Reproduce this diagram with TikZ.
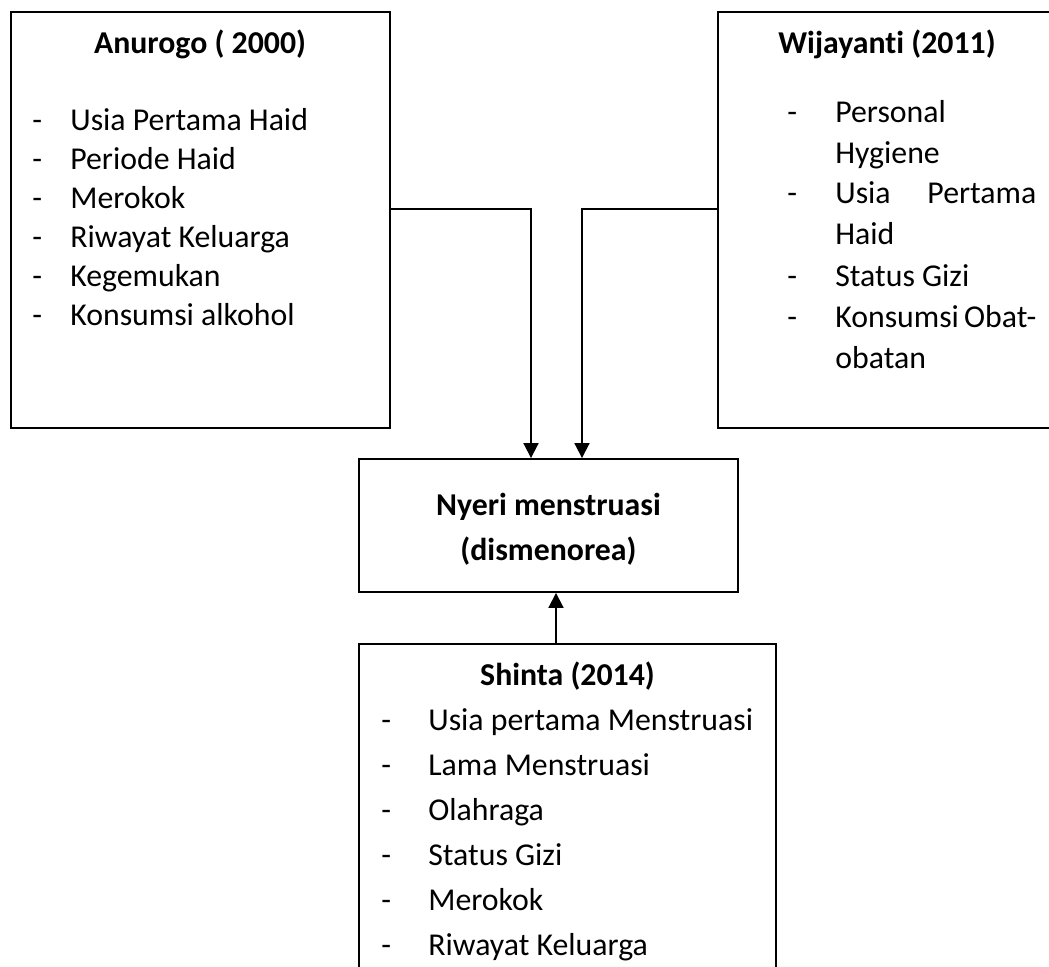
\documentclass[tikz,border=0pt]{standalone}
\usepackage{fontspec}
\setmainfont{Carlito}[Ligatures=NoCommon]
\usetikzlibrary{arrows.meta,calc,positioning}

\begin{document}
\begin{tikzpicture}[x=0.02cm,y=-0.02cm,
  box/.style={draw,line width=1.1pt,inner sep=0pt},
  txt/.style={anchor=base west,inner sep=0pt,font=\fontsize{18.1}{21}\selectfont},
  head/.style={anchor=base,inner sep=0pt,font=\fontsize{18.1}{21}\selectfont\bfseries},
  arr/.style={line width=1.1pt,-{Triangle[width=8.5pt,length=8.5pt]}}]
  \useasboundingbox (0,0) rectangle (1049,967);
  % boxes
  \node[box,minimum width=7.58cm,minimum height=8.32cm] (anurogo) at (200.5,220) {};
  \node[box,minimum width=7.24cm,minimum height=8.32cm] (wijayanti) at (899,220) {};
  \node[box,minimum width=7.58cm,minimum height=2.66cm] (nyeri) at (548.5,525.5) {};
  \node[box,minimum width=8.34cm,minimum height=7.12cm] (shinta) at (567.5,822) {};
  % Anurogo
  \node[head] (anurogo-t) at (200,53) {Anurogo ( 2000)};
  \foreach \y/\t [count=\i] in {130/Usia Pertama Haid,169/Periode Haid,208/Merokok,
      247/Riwayat Keluarga,286/Kegemukan,325/Konsumsi alkohol}
    {\node[txt] (a-\i) at (70,\y) {\t};
     \node[txt] (ad-\i) at (32,\y) {-};}
  % Wijayanti
  \node[head] (wijayanti-t) at (887,53) {Wijayanti (2011)};
  \foreach \y/\t [count=\i] in {122/Personal,163/Hygiene,203/\makebox[4.02cm][s]{Usia Pertama},
      244/Haid,286/Status Gizi,327/\makebox[4.02cm][s]{Konsumsi Obat-},368/obatan}
    {\node[txt] (w-\i) at (835,\y) {\t};}
  \foreach \y [count=\i] in {122,203,286,327}
    {\node[txt] (wd-\i) at (787,\y) {-};}
  % Nyeri
  \node[head] (nyeri-1) at (548.5,515) {Nyeri menstruasi};
  \node[head] (nyeri-2) at (548.5,560) {(dismenorea)};
  % Shinta
  \node[head] (shinta-t) at (567.5,685) {Shinta (2014)};
  \foreach \y/\t [count=\i] in {730/Usia pertama Menstruasi,775/Lama Menstruasi,820/Olahraga,
      865/Status Gizi,910/Merokok,955/Riwayat Keluarga}
    {\node[txt] (s-\i) at (428,\y) {\t};
     \node[txt] (sd-\i) at (381,\y) {-};}
  % arrows
  \draw[arr] ([yshift=0.22cm]anurogo.east) -| ([xshift=-0.35cm]nyeri.north);
  \draw[arr] ([yshift=0.22cm]wijayanti.west) -| ([xshift=0.67cm]nyeri.north);
  \draw[arr] ([xshift=-0.23cm]shinta.north) -- ([xshift=-0.23cm]shinta.north |- nyeri.south);
\end{tikzpicture}
\end{document}
